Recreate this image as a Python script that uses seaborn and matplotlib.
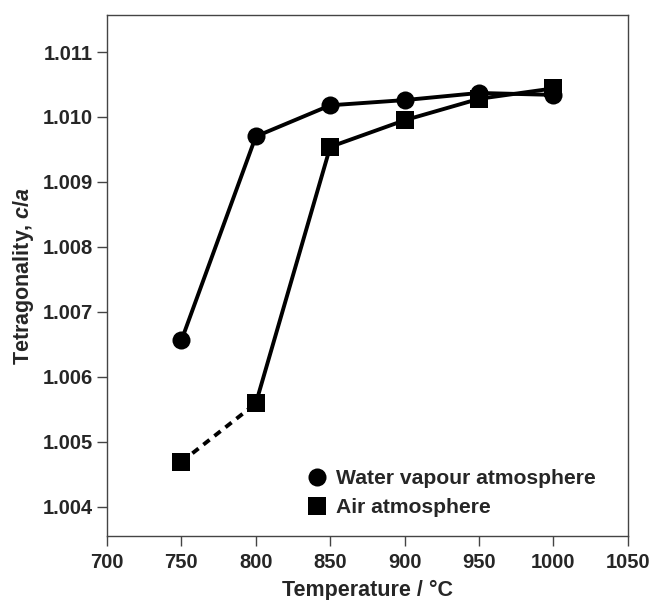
import matplotlib
matplotlib.use("Agg")
import matplotlib.pyplot as plt
import seaborn as sns
import pandas as pd
from matplotlib.lines import Line2D

temps = [750, 800, 850, 900, 950, 1000]
water = [1.00656, 1.00970, 1.01018, 1.01026, 1.01037, 1.01034]
air = [1.00469, 1.00559, 1.00954, 1.00995, 1.01028, 1.01044]

xticks = [700, 750, 800, 850, 900, 950, 1000, 1050]
yticks = [1.004, 1.005, 1.006, 1.007, 1.008, 1.009, 1.010, 1.011]

sns.set_theme(style="white")
plt.rcParams['font.family'] = ['Liberation Sans', 'DejaVu Sans']
plt.rcParams['font.weight'] = 'bold'
plt.rcParams['mathtext.fontset'] = 'custom'
plt.rcParams['mathtext.it'] = 'Liberation Sans:italic:bold'
plt.rcParams['mathtext.rm'] = 'Liberation Sans:bold'

fig = plt.figure(figsize=(6.5, 6), dpi=100)
ax = fig.add_axes([0.1646, 0.1067, 0.8014, 0.8683])

dfw = pd.DataFrame({"T": temps, "v": water})
dfa = pd.DataFrame({"T": temps, "v": air})

sns.lineplot(data=dfw, x="T", y="v", ax=ax, color="black", lw=2.8, marker="o",
             markersize=13, markeredgewidth=0, zorder=3)
sns.lineplot(data=dfa.iloc[1:], x="T", y="v", ax=ax, color="black", lw=2.8,
             marker="s", markersize=13, markeredgewidth=0, zorder=3)
sns.lineplot(data=dfa.iloc[:2], x="T", y="v", ax=ax, color="black", lw=2.8,
             linestyle=(0, (2, 1.6)), zorder=2)
sns.scatterplot(data=dfa.iloc[:1], x="T", y="v", ax=ax, color="black", marker="s",
                s=13**2, linewidth=0, zorder=4)

ax.set_xlim(700, 1050)
ax.set_ylim(1.00355, 1.01157)
ax.set_xticks(xticks)
ax.set_yticks(yticks)
ax.set_xticklabels([str(t) for t in xticks])
ax.set_yticklabels([f"{t:.3f}" for t in yticks])
ax.tick_params(axis="both", direction="out", length=7, width=1, color="#444444",
               labelsize=14.5, bottom=True, left=True)
ax.tick_params(axis="x", pad=5)
ax.tick_params(axis="y", pad=3)
for lab in ax.get_xticklabels() + ax.get_yticklabels():
    lab.set_fontweight("bold")
for sp in ax.spines.values():
    sp.set_color("#444444")
    sp.set_linewidth(1.0)

ax.set_xlabel("Temperature / °C", fontsize=15.5, fontweight="bold", labelpad=6)
ax.set_ylabel(r"Tetragonality, $c/a$", fontsize=15.5, fontweight="bold", labelpad=5)

handles = [
    Line2D([], [], color="black", marker="o", linestyle="none", markersize=13, markeredgewidth=0),
    Line2D([], [], color="black", marker="s", linestyle="none", markersize=13, markeredgewidth=0),
]
ax.legend(handles, ["Water vapour atmosphere", "Air atmosphere"], loc="lower right",
          bbox_to_anchor=(0.975, 0.0), frameon=False, prop={"size": 15.2, "weight": "bold"},
          handletextpad=0.3, labelspacing=0.45, handlelength=1.2)

fig.savefig("out.png", dpi=100)
